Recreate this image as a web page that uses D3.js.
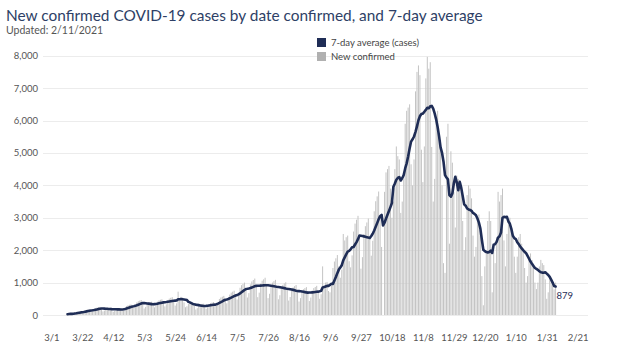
<!DOCTYPE html>
<html><head><meta charset="utf-8">
<script src="https://cdn.jsdelivr.net/npm/d3@7"></script>
<style>
body{margin:0;background:#fff;}
svg{display:block;}
text{font-family:Lato,"Open Sans",sans-serif;}
</style>
</head><body>
<svg id="chart" width="640" height="356"></svg>
<script>
const titleText = "New confirmed COVID-19 cases by date confirmed, and 7-day average";
const subtitleText = "Updated: 2/11/2021";
const seriesNames = ["7-day average (cases)", "New confirmed"];
const firstDate = "2020-03-12";
// daily new confirmed cases, one value per day from 3/12/2020 to 2/6/2021
const newConfirmed = [
  25, 35, 40,
  40, 55, 80, 90, 95, 105, 95,
  85, 100, 145, 160, 165, 175, 150,
  120, 150, 210, 230, 240, 250, 200,
  110, 135, 190, 210, 215, 225, 175,
  100, 130, 180, 195, 205, 210, 170,
  150, 195, 275, 300, 315, 325, 260,
  220, 280, 390, 425, 445, 460, 370,
  200, 250, 345, 380, 400, 410, 325,
  235, 290, 410, 450, 470, 485, 390,
  265, 330, 460, 505, 530, 550, 440,
  290, 360, 720, 500, 560, 540, 390,
  240, 270, 340, 380, 400, 380, 300,
  170, 210, 290, 320, 340, 350, 280,
  190, 240, 335, 370, 385, 400, 320,
  280, 350, 495, 540, 565, 590, 470,
  360, 450, 630, 690, 720, 750, 600,
  480, 600, 840, 920, 960, 1000, 800,
  540, 675, 945, 1035, 1080, 1125, 900,
  550, 690, 965, 1060, 1100, 1150, 925,
  520, 655, 915, 1000, 1045, 1085, 870,
  485, 610, 850, 930, 975, 1010, 810,
  445, 555, 780, 850, 890, 925, 735,
  415, 520, 725, 795, 830, 860, 685,
  430, 540, 755, 830, 865, 900, 720,
  500, 640, 1500, 900, 1000, 1020, 740,
  700, 900, 1450, 1650, 1750, 1850, 1500,
  1150, 1400, 2500, 2300, 2400, 2450, 1660,
  1470, 1840, 2575, 2820, 2940, 3060, 2445,
  1430, 1785, 2500, 2740, 2855, 2975, 2375,
  1830, 2290, 3200, 3510, 3660, 3810, 3050,
  2100, 0, 3800, 4400, 4500, 4600, 3900,
  3000, 3500, 4500, 5200, 4900, 4800, 3150,
  3500, 4200, 5900, 6300, 6400, 6500, 4650,
  4000, 4800, 6900, 7500, 7700, 7400, 5100,
  4100, 5200, 7300, 7965, 7600, 7800, 5185,
  3500, 4200, 6000, 6300, 5600, 5400, 4000,
  1600, 1300, 5500, 5900, 2200, 5050, 4700,
  3800, 2700, 4300, 4200, 4000, 3800, 2900,
  2000, 2400, 3700, 4000, 3900, 3600, 2450,
  1800, 2100, 3000, 3100, 2600, 1200, 300,
  1500, 1900, 2900, 3200, 2900, 700, 2100,
  1600, 2400, 3800, 3500, 3700, 3900, 2300,
  1500, 2500, 2800, 3000, 2600, 2400, 1800,
  1300, 1800, 2400, 2500, 2200, 2000, 1450,
  1000, 1200, 1800, 1900, 1700, 1550, 1000,
  800, 1000, 1500, 1700, 1600, 1540, 1100,
  500, 700, 1100, 1100, 960, 793, 1000
];
const yTicks = [0, 1000, 2000, 3000, 4000, 5000, 6000, 7000, 8000];
const xTickDates = ["2020-03-01","2020-03-22","2020-04-12","2020-05-03","2020-05-24","2020-06-14",
  "2020-07-05","2020-07-26","2020-08-16","2020-09-06","2020-09-27","2020-10-18","2020-11-08",
  "2020-11-29","2020-12-20","2021-01-10","2021-01-31","2021-02-21"];

const parse = d3.utcParse("%Y-%m-%d");
const start = parse(firstDate);
const data = newConfirmed.map((v, i) => {
  const w = newConfirmed.slice(Math.max(0, i - 6), i + 1);
  return { date: d3.utcDay.offset(start, i), value: v, avg: d3.mean(w) };
});

const svg = d3.select("#chart");
const x = d3.scaleUtc().domain([parse(xTickDates[0]), parse(xTickDates[xTickDates.length - 1])]).range([51.3, 577.7]);
const y = d3.scaleLinear().domain([0, 8000]).range([315, 55.7]);
const gridX0 = 43, gridX1 = 588;

// gridlines
svg.append("g").selectAll("line").data(yTicks).join("line")
  .attr("x1", gridX0).attr("x2", gridX1)
  .attr("y1", d => Math.round(y(d)) + 0.5).attr("y2", d => Math.round(y(d)) + 0.5)
  .attr("stroke", "#ececec").attr("stroke-width", 1);

// y axis labels
const yAxis = svg.append("g").attr("transform", `translate(38,0)`)
  .call(d3.axisLeft(y).tickValues(yTicks).tickFormat(d3.format(",")).tickSize(0).tickPadding(0));
yAxis.select(".domain").remove();
yAxis.selectAll("text").attr("font-size", 9.5).attr("fill", "#555").style("font-family", "Lato");

// x axis labels
const xAxis = svg.append("g").attr("transform", `translate(0,334)`)
  .call(d3.axisBottom(x).tickValues(xTickDates.map(parse)).tickFormat(d3.utcFormat("%-m/%-d")).tickSize(0).tickPadding(0));
xAxis.select(".domain").remove();
xAxis.selectAll("text").attr("font-size", 9.5).attr("fill", "#555").style("font-family", "Lato");

// bars
const bw = 1;
svg.append("g").selectAll("rect").data(data).join("rect")
  .attr("x", d => x(d.date) - bw / 2)
  .attr("width", bw)
  .attr("y", d => y(d.value))
  .attr("height", d => y(0) - y(d.value))
  .attr("fill", "#c4c4c4");

// 7-day average line
const line = d3.line().x(d => x(d.date)).y(d => y(d.avg));
svg.append("path").datum(data).attr("d", line)
  .attr("fill", "none").attr("stroke", "#1f2d56").attr("stroke-width", 2.6)
  .attr("stroke-linejoin", "round").attr("stroke-linecap", "round");

// end label
const last = data[data.length - 1];
svg.append("text").attr("x", x(last.date) + 1).attr("y", y(last.avg) + 12)
  .attr("font-size", 9.5).attr("fill", "#1f2d56").text(d3.format(",.0f")(last.avg));

// title
svg.append("text").attr("x", 6).attr("y", 21).attr("font-size", 15.4).attr("fill", "#2e3f66").text(titleText);
svg.append("text").attr("x", 6).attr("y", 34).attr("font-size", 10.5).attr("fill", "#555").text(subtitleText);

// legend
const legColors = ["#1f2d56", "#b0b0b0"];
const leg = svg.append("g").selectAll("g").data(seriesNames).join("g")
  .attr("transform", (d, i) => `translate(317,${38 + i * 14})`);
leg.append("rect").attr("width", 9).attr("height", 9).attr("fill", (d, i) => legColors[i]);
leg.append("text").attr("x", 14).attr("y", 8).attr("font-size", 9.5).attr("fill", "#444").text(d => d);
</script>
</body></html>
